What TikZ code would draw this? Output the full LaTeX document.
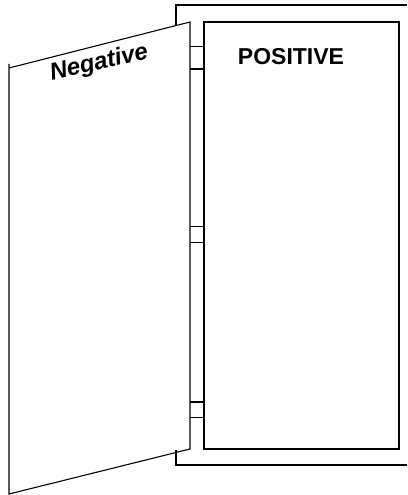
\documentclass[tikz,border=0pt]{standalone}
\usepackage{fontspec}
\setmainfont{Liberation Sans}
\begin{document}
\begin{tikzpicture}[x=1pt,y=-1pt,
  ln/.style={line width=1.1pt,line join=miter},
  lbl/.style={inner sep=0pt,anchor=base}]
\useasboundingbox (0,0) rectangle (407,495);
% outer frame (partly hidden behind the door)
\draw[ln] (176,25.5) -- (176,5) -- (407,5);
\draw[ln] (176,450) -- (176,465) -- (407,465);
% inner positive panel
\draw[ln] (204,22) rectangle (399,449);
% hinges
\foreach \yy in {46.7,69,226.7,242.7,402,417.7}
  \draw[ln] (190,\yy) -- (204,\yy);
% door
\draw[ln] (9,64) -- (9,494) -- (190,449) -- (190,22) -- (9,68);
% texts
\node[lbl] (pos) at (291,64) {\fontsize{23}{27}\selectfont\bfseries POSITIVE};
\node[lbl,rotate=13] (neg) at (100.5,69.5) {\fontsize{24}{28}\selectfont\bfseries\itshape Negative};
\end{tikzpicture}
\end{document}
